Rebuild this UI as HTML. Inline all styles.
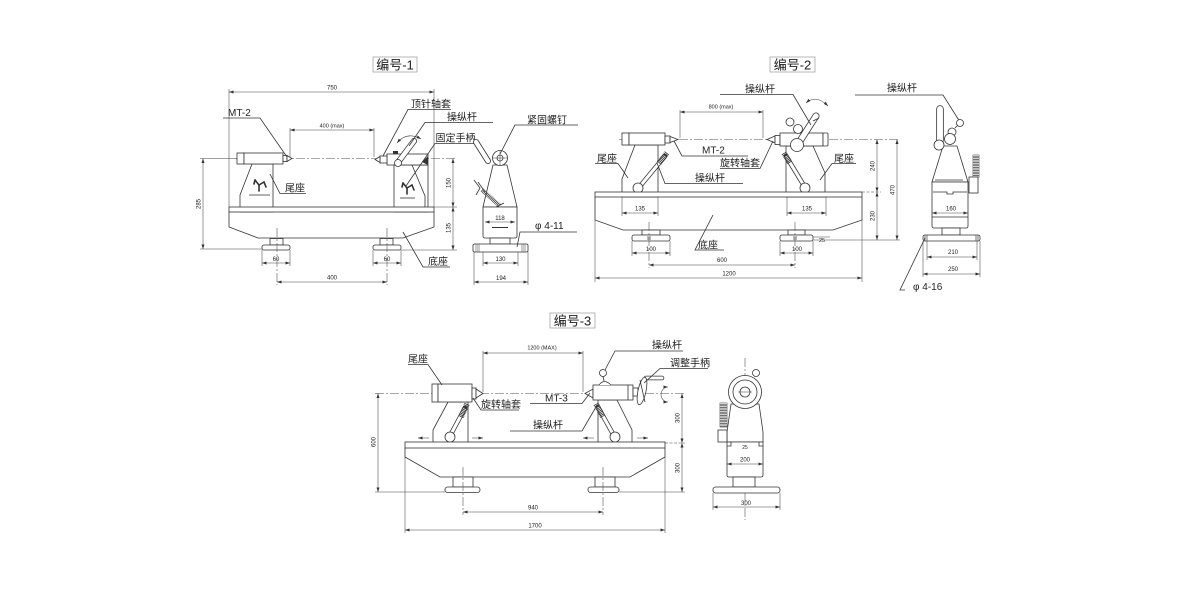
<!DOCTYPE html>
<html><head><meta charset="utf-8">
<style>
html,body{margin:0;padding:0;background:#fff;}
svg{display:block}
text{font-family:"Liberation Sans","Noto Sans CJK SC",sans-serif;fill:#222}
.l{stroke:#333;stroke-width:.8;fill:none}
.f{stroke:#333;stroke-width:.8;fill:#fff}
.d{stroke:#444;stroke-width:.55;fill:none}
.c{stroke:#555;stroke-width:.6;fill:none;stroke-dasharray:9 2 2 2}
.t{font-size:10px}
.n{font-size:6px}
.tt{font-size:13px}
</style></head><body>
<svg width="1181" height="591" viewBox="0 0 1181 591" xmlns="http://www.w3.org/2000/svg">
<defs>
<marker id="a" markerUnits="userSpaceOnUse" viewBox="0 0 6 4" refX="6" refY="2" markerWidth="5" markerHeight="3" orient="auto-start-reverse"><path d="M0,0L6,2L0,4z" fill="#333"/></marker>
</defs>
<rect width="1181" height="591" fill="#fff"/>

<!-- ================= DRAWING 1 ================= -->
<rect x="373" y="57" width="44" height="15" fill="none" stroke="#999" stroke-width=".7"/>
<text class="tt" x="395" y="69.5" text-anchor="middle">编号-1</text>

<!-- 750 -->
<line class="d" x1="229" y1="92" x2="434" y2="92" marker-start="url(#a)" marker-end="url(#a)"/>
<text class="n" x="332" y="89.5" text-anchor="middle">750</text>
<line class="d" x1="229" y1="89" x2="229" y2="207"/>
<line class="d" x1="434" y1="89" x2="434" y2="207"/>

<!-- 400 max -->
<line class="d" x1="290" y1="130" x2="374" y2="130" marker-start="url(#a)" marker-end="url(#a)"/>
<line class="d" x1="290" y1="128" x2="290" y2="157"/>
<line class="d" x1="374" y1="128" x2="374" y2="157"/>
<text font-size="5.5" x="332" y="127.5" text-anchor="middle">400 (max)</text>

<!-- center line -->
<line class="c" x1="236" y1="158.5" x2="457" y2="158.5"/>

<!-- left tailstock -->
<polygon class="f" points="252,164 240,195 240,212 273,212 273,164"/>
<rect class="f" x="237" y="153" width="7" height="11"/>
<rect class="f" x="244" y="153" width="39" height="11"/>
<rect class="f" x="283" y="155.5" width="4" height="6"/>
<polygon class="f" points="287,155.5 292,158.5 287,161.5"/>
<line x1="241" y1="207.5" x2="272" y2="207.5" stroke="#888" stroke-width=".8" stroke-dasharray="1 1"/>
<g stroke="#333" stroke-width="1.6" stroke-linecap="round">
<line x1="259" y1="185" x2="255" y2="180"/><line x1="259" y1="185" x2="264" y2="182"/><line x1="259" y1="185" x2="259" y2="191"/>
<line x1="255" y1="180" x2="254" y2="184"/><line x1="264" y1="182" x2="266" y2="187"/>
</g>
<line class="l" x1="249" y1="195" x2="270" y2="195"/>

<!-- right headstock -->
<rect class="f" x="394" y="165" width="34" height="47"/>
<polyline class="l" points="412,165 425,196 425,212"/>
<rect class="f" x="387" y="154" width="41" height="11"/>
<rect class="f" x="380" y="156" width="7" height="7"/>
<polygon class="f" points="380,156.5 375,159.5 380,162.5"/>
<polygon points="422,162 428,156 428,165" fill="#333"/>
<rect x="393" y="151" width="5" height="3" fill="#333"/>
<line x1="399" y1="161" x2="414" y2="141" stroke="#333" stroke-width="6" stroke-linecap="round"/>
<line x1="399" y1="161" x2="414" y2="141" stroke="#fff" stroke-width="4.4" stroke-linecap="round"/>
<circle class="f" cx="398" cy="163" r="3.5"/>
<path class="d" d="M397,143 Q407,131 421,139" marker-start="url(#a)" marker-end="url(#a)"/>
<line x1="395" y1="207.5" x2="427" y2="207.5" stroke="#888" stroke-width=".8" stroke-dasharray="1 1"/>
<g stroke="#333" stroke-width="1.6" stroke-linecap="round">
<line x1="407" y1="188" x2="403" y2="183"/><line x1="407" y1="188" x2="412" y2="185"/><line x1="407" y1="188" x2="407" y2="194"/>
<line x1="403" y1="183" x2="402" y2="187"/><line x1="412" y1="185" x2="414" y2="190"/>
</g>
<line class="l" x1="400" y1="198" x2="415" y2="198"/>

<!-- base 1 -->
<rect class="f" x="229" y="207" width="205" height="5"/>
<polyline class="l" points="229,212 229,227 258,238 403,238 434,227 434,212"/>
<rect class="f" x="270" y="238.5" width="13" height="6.5"/>
<rect class="f" x="262" y="245" width="28" height="5" rx="2"/>
<rect class="f" x="380" y="238.5" width="13" height="6.5"/>
<rect class="f" x="373" y="245" width="28" height="5" rx="2"/>
<line class="c" x1="277" y1="228" x2="277" y2="285"/>
<line class="c" x1="387" y1="228" x2="387" y2="285"/>

<!-- dims under 1 -->
<line class="d" x1="262" y1="250" x2="262" y2="266"/><line class="d" x1="290" y1="250" x2="290" y2="266"/>
<line class="d" x1="373" y1="250" x2="373" y2="266"/><line class="d" x1="401" y1="250" x2="401" y2="266"/>
<line class="d" x1="262" y1="263" x2="290" y2="263" marker-start="url(#a)" marker-end="url(#a)"/>
<line class="d" x1="373" y1="263" x2="401" y2="263" marker-start="url(#a)" marker-end="url(#a)"/>
<text class="n" x="276" y="261" text-anchor="middle">60</text>
<text class="n" x="387" y="261" text-anchor="middle">60</text>
<line class="d" x1="277" y1="282" x2="387" y2="282" marker-start="url(#a)" marker-end="url(#a)"/>
<text class="n" x="332" y="279.5" text-anchor="middle">400</text>

<!-- 285 -->
<line class="d" x1="200" y1="158.5" x2="237" y2="158.5"/>
<line class="d" x1="200" y1="249" x2="262" y2="249"/>
<line class="d" x1="203" y1="158.5" x2="203" y2="249" marker-start="url(#a)" marker-end="url(#a)"/>
<text class="n" text-anchor="middle" transform="translate(200.5,204) rotate(-90)">285</text>

<!-- right dims 1 -->
<line class="d" x1="434" y1="207" x2="457" y2="207"/>
<line class="d" x1="401" y1="250" x2="457" y2="250"/>
<line class="d" x1="453" y1="158.5" x2="453" y2="207" marker-start="url(#a)" marker-end="url(#a)"/>
<line class="d" x1="453" y1="207" x2="453" y2="250" marker-start="url(#a)" marker-end="url(#a)"/>
<text class="n" text-anchor="middle" transform="translate(450.5,183) rotate(-90)">150</text>
<text class="n" text-anchor="middle" transform="translate(450.5,228) rotate(-90)">135</text>

<!-- labels 1 -->
<text class="t" x="228" y="116">MT-2</text>
<polyline class="l" points="223,118 260,118 287,157"/>
<text class="t" x="411" y="107.5">顶针轴套</text>
<polyline class="l" points="451,109.5 408,109.5 383,156"/>
<text class="t" x="447" y="120.5">操纵杆</text>
<polyline class="l" points="493,122.5 425,122.5 409,146"/>
<text class="t" x="435.5" y="141.5">固定手柄</text>
<polyline class="l" points="474,143.5 435,143.5 406,186"/>
<text class="t" x="285" y="191.5">尾座</text>
<polyline class="l" points="306,193.5 280,193.5 270,174"/>
<text class="t" x="428" y="265">底座</text>
<polyline class="l" points="450,267 423,267 403,232"/>

<!-- side view 1 -->
<line x1="476" y1="142" x2="488" y2="161" stroke="#333" stroke-width="6" stroke-linecap="round"/>
<line x1="476" y1="142" x2="488" y2="161" stroke="#fff" stroke-width="4.4" stroke-linecap="round"/>
<polygon class="f" points="493,165 507,165 517,207 483,207"/>
<path class="f" d="M483,207 H517 V236 Q517,238 515,238 H485 Q483,238 483,236 Z"/>
<circle class="f" cx="500" cy="158" r="7.5"/>
<circle class="l" cx="500" cy="158" r="3"/>
<line class="d" x1="493" y1="158" x2="507" y2="158"/>
<line class="d" x1="500" y1="151" x2="500" y2="165"/>
<line x1="482" y1="190" x2="500" y2="206" stroke="#333" stroke-width="4" stroke-dasharray=".8 .7"/>
<polyline class="l" points="474,180 480,188 476,195"/>
<line class="l" x1="478" y1="182" x2="485" y2="192"/>
<line class="l" x1="496" y1="207" x2="504" y2="203"/>
<line x1="492" y1="227.5" x2="508" y2="227.5" stroke="#333" stroke-width="1"/>
<rect class="f" x="490" y="238" width="20" height="6"/>
<rect class="f" x="473" y="244" width="55" height="8" rx="1.5"/>
<rect x="475" y="244.5" width="5" height="7" fill="#ccc"/>
<rect x="521" y="244.5" width="5" height="7" fill="#ccc"/>
<line class="d" x1="485" y1="222" x2="515" y2="222" marker-start="url(#a)" marker-end="url(#a)"/>
<text class="n" x="500" y="220" text-anchor="middle">118</text>
<line class="d" x1="483" y1="252" x2="483" y2="266"/><line class="d" x1="518" y1="252" x2="518" y2="266"/>
<line class="d" x1="483" y1="263" x2="518" y2="263" marker-start="url(#a)" marker-end="url(#a)"/>
<text class="n" x="500.5" y="261" text-anchor="middle">130</text>
<line class="d" x1="474" y1="252" x2="474" y2="285"/><line class="d" x1="528" y1="252" x2="528" y2="285"/>
<line class="d" x1="474" y1="282" x2="528" y2="282" marker-start="url(#a)" marker-end="url(#a)"/>
<text class="n" x="501" y="280" text-anchor="middle">194</text>
<text class="t" x="527" y="123.5">紧固螺钉</text>
<polyline class="l" points="578,125 515,125 500,154"/>
<text class="t" x="535" y="229">φ 4-11</text>
<polyline class="l" points="577,232 520,232 517,247"/>

<!-- ================= DRAWING 2 ================= -->
<rect x="770" y="57" width="45" height="15" fill="none" stroke="#999" stroke-width=".7"/>
<text class="tt" x="792.5" y="69.5" text-anchor="middle">编号-2</text>

<!-- 800 max -->
<line class="d" x1="680" y1="112" x2="763" y2="112" marker-start="url(#a)" marker-end="url(#a)"/>
<line class="d" x1="680" y1="110" x2="680" y2="138"/>
<line class="d" x1="763" y1="110" x2="763" y2="138"/>
<text font-size="5.5" x="721" y="108.5" text-anchor="middle">800 (max)</text>

<line class="c" x1="619" y1="139.5" x2="900" y2="139.5"/>

<!-- left tailstock 2 -->
<polygon class="f" points="635,145 622,179 622,197 658,197 658,145"/>
<line x1="623" y1="196" x2="657" y2="196" stroke="#333" stroke-width="1.4"/>
<rect class="f" x="622" y="133" width="7" height="12"/>
<rect class="f" x="629" y="133" width="36" height="12"/>
<rect class="f" x="665" y="136" width="5" height="7"/>
<polygon class="f" points="670,136.5 678,139.5 670,142.5"/>
<line x1="665" y1="156" x2="641" y2="185" stroke="#333" stroke-width="4.6" stroke-linecap="round"/>
<line x1="665" y1="156" x2="641" y2="185" stroke="#fff" stroke-width="3.1"/>
<line x1="667" y1="153" x2="659" y2="163" stroke="#333" stroke-width="5.5" stroke-dasharray=".8 .7"/>
<circle class="f" cx="638" cy="188" r="5"/>

<!-- right headstock 2 -->
<polygon class="f" points="786,146 786,197 825,197 825,173 813,146"/>
<line x1="787" y1="196" x2="824" y2="196" stroke="#333" stroke-width="1.4"/>
<polygon class="f" points="767,139.5 775,136 775,143"/>
<rect class="f" x="775" y="135.5" width="5" height="9"/>
<rect class="f" x="780" y="133" width="43" height="13"/>
<rect class="f" x="823" y="133" width="5" height="13" rx="1"/>
<line x1="786" y1="156" x2="803" y2="184" stroke="#333" stroke-width="4.6" stroke-linecap="round"/>
<line x1="786" y1="156" x2="803" y2="184" stroke="#fff" stroke-width="3.1"/>
<line x1="784" y1="153" x2="790" y2="163" stroke="#333" stroke-width="5.5" stroke-dasharray=".8 .7"/>
<circle class="f" cx="805" cy="188" r="5"/>
<circle class="f" cx="790" cy="122" r="4"/>
<circle class="f" cx="798" cy="129" r="4.5"/>
<line x1="800" y1="141" x2="816" y2="116" stroke="#333" stroke-width="7" stroke-linecap="round"/>
<line x1="800" y1="141" x2="816" y2="116" stroke="#fff" stroke-width="5.4" stroke-linecap="round"/>
<line class="l" x1="813" y1="121" x2="819" y2="118"/>
<circle class="f" cx="797" cy="145" r="6.5"/>
<path class="d" d="M806,103 Q816,94 828,106" marker-start="url(#a)" marker-end="url(#a)"/>

<!-- base 2 -->
<rect class="f" x="595" y="192" width="267" height="5"/>
<polyline class="l" points="595,197 595,220 623,230 833,230 862,220 862,197"/>
<line class="d" x1="595" y1="220" x2="595" y2="282"/>
<line class="d" x1="862" y1="220" x2="862" y2="282"/>
<rect class="f" x="642" y="230" width="18" height="5"/>
<rect class="f" x="632" y="235" width="38" height="6" rx="2"/>
<rect class="f" x="788" y="230" width="17" height="5"/>
<rect class="f" x="780" y="235" width="33" height="6" rx="2"/>
<rect x="647" y="236" width="4" height="4" fill="#bbb"/>
<rect x="793" y="236" width="4" height="4" fill="#bbb"/>
<line class="c" x1="649" y1="222" x2="649" y2="268"/>
<line class="c" x1="795" y1="222" x2="795" y2="268"/>

<!-- dims 2 -->
<line class="d" x1="622" y1="197" x2="622" y2="216"/><line class="d" x1="658" y1="197" x2="658" y2="216"/>
<line class="d" x1="622" y1="213" x2="658" y2="213" marker-start="url(#a)" marker-end="url(#a)"/>
<text class="n" x="640" y="210.5" text-anchor="middle">135</text>
<line class="d" x1="787" y1="197" x2="787" y2="216"/><line class="d" x1="826" y1="197" x2="826" y2="216"/>
<line class="d" x1="787" y1="213" x2="826" y2="213" marker-start="url(#a)" marker-end="url(#a)"/>
<text class="n" x="807" y="210.5" text-anchor="middle">135</text>
<line class="d" x1="632" y1="241" x2="632" y2="256"/><line class="d" x1="670" y1="241" x2="670" y2="256"/>
<line class="d" x1="632" y1="253" x2="670" y2="253" marker-start="url(#a)" marker-end="url(#a)"/>
<text class="n" x="651" y="251" text-anchor="middle">100</text>
<line class="d" x1="780" y1="241" x2="780" y2="256"/><line class="d" x1="813" y1="241" x2="813" y2="256"/>
<line class="d" x1="780" y1="253" x2="813" y2="253" marker-start="url(#a)" marker-end="url(#a)"/>
<text class="n" x="797" y="251" text-anchor="middle">100</text>
<line class="d" x1="649" y1="265" x2="795" y2="265" marker-start="url(#a)" marker-end="url(#a)"/>
<text class="n" x="722" y="262" text-anchor="middle">600</text>
<line class="d" x1="595" y1="278" x2="862" y2="278" marker-start="url(#a)" marker-end="url(#a)"/>
<text class="n" x="729" y="275.5" text-anchor="middle">1200</text>
<line class="d" x1="813" y1="237" x2="830" y2="237"/>
<text font-size="5.5" x="819" y="242">25</text>

<line class="d" x1="862" y1="192" x2="881" y2="192" stroke-dasharray="3 1.5"/>
<line class="d" x1="813" y1="240" x2="900" y2="240"/>
<line class="d" x1="877" y1="139.5" x2="877" y2="192" marker-start="url(#a)" marker-end="url(#a)"/>
<line class="d" x1="877" y1="192" x2="877" y2="240" marker-start="url(#a)" marker-end="url(#a)"/>
<line class="d" x1="897" y1="139.5" x2="897" y2="240" marker-start="url(#a)" marker-end="url(#a)"/>
<text class="n" text-anchor="middle" transform="translate(874.5,166) rotate(-90)">240</text>
<text class="n" text-anchor="middle" transform="translate(874.5,216) rotate(-90)">230</text>
<text class="n" text-anchor="middle" transform="translate(894.5,190) rotate(-90)">470</text>

<!-- labels 2 -->
<text class="t" x="745" y="92.5">操纵杆</text>
<polyline class="l" points="720,94.5 793,94.5 811,125"/>
<text class="t" x="702" y="153.5">MT-2</text>
<polyline class="l" points="748,156 682,156 674,141"/>
<text class="t" x="720" y="166.5">旋转轴套</text>
<polyline class="l" points="720,168.5 760,168.5 773,141"/>
<text class="t" x="695" y="181.5">操纵杆</text>
<polyline class="l" points="743,183.5 665,183.5 657,163"/>
<text class="t" x="597" y="162">尾座</text>
<polyline class="l" points="595,163.5 618,163.5 628,178"/>
<text class="t" x="834" y="162">尾座</text>
<polyline class="l" points="856,163.5 832,163.5 820,180"/>
<text class="t" x="698" y="248.5">底座</text>
<polyline class="l" points="724,250 695,250 713,215"/>

<!-- side view 2 -->
<text class="t" x="887" y="91.5">操纵杆</text>
<polyline class="l" points="855,95 943,95 960,122"/>
<line x1="940" y1="109" x2="940" y2="140" stroke="#333" stroke-width="7.5" stroke-linecap="round"/>
<line x1="940" y1="109" x2="940" y2="140" stroke="#fff" stroke-width="5.9" stroke-linecap="round"/>
<line class="l" x1="955" y1="128" x2="958" y2="125"/>
<circle class="f" cx="960" cy="123" r="3.5"/>
<circle class="f" cx="952" cy="132" r="4"/>
<polygon class="f" points="943,146 957,146 968,182 932,182"/>
<circle class="f" cx="950" cy="139" r="5.5"/>
<circle class="f" cx="939" cy="145" r="5"/>
<path class="f" d="M932,182 H968 V226 Q968,228 966,228 H934 Q932,228 932,226 Z"/>
<line class="l" x1="935" y1="180" x2="963" y2="180"/>
<polyline class="l" points="933,192 947,192 947,194 953,194 953,192 967,192"/>
<line class="l" x1="932" y1="217" x2="968" y2="217"/>
<rect x="973" y="155" width="6" height="22" fill="#444" stroke="#333" stroke-width=".6"/>
<line x1="976" y1="155" x2="976" y2="177" stroke="#fff" stroke-width="6" stroke-dasharray=".8 .8"/>
<rect class="f" x="969" y="177" width="9" height="16"/>
<rect class="f" x="942" y="228" width="18" height="7"/>
<rect class="f" x="923" y="235" width="57" height="6" rx="2"/>
<rect x="924" y="235.5" width="4" height="5" fill="#bbb"/>
<rect x="975" y="235.5" width="4" height="5" fill="#bbb"/>
<line class="d" x1="932" y1="213" x2="968" y2="213" marker-start="url(#a)" marker-end="url(#a)"/>
<text class="n" x="951" y="210.5" text-anchor="middle">160</text>
<line class="d" x1="927" y1="241" x2="927" y2="260"/><line class="d" x1="977" y1="241" x2="977" y2="260"/>
<line class="d" x1="927" y1="257" x2="977" y2="257" marker-start="url(#a)" marker-end="url(#a)"/>
<text class="n" x="953" y="254" text-anchor="middle">210</text>
<line class="d" x1="923" y1="241" x2="923" y2="277"/><line class="d" x1="980" y1="241" x2="980" y2="277"/>
<line class="d" x1="923" y1="274" x2="980" y2="274" marker-start="url(#a)" marker-end="url(#a)"/>
<text class="n" x="953" y="271" text-anchor="middle">250</text>
<polyline class="l" points="925,238 900,290 905,290"/>
<text class="t" x="913" y="290">φ 4-16</text>

<!-- ================= DRAWING 3 ================= -->
<rect x="550" y="313" width="45" height="15" fill="none" stroke="#999" stroke-width=".7"/>
<text class="tt" x="572.5" y="325.5" text-anchor="middle">编号-3</text>

<line class="d" x1="483" y1="353" x2="583" y2="353" marker-start="url(#a)" marker-end="url(#a)"/>
<line class="d" x1="483" y1="351" x2="483" y2="392"/>
<line class="d" x1="583" y1="351" x2="583" y2="392"/>
<text font-size="5.5" x="542" y="349.5" text-anchor="middle">1200 (MAX)</text>

<line class="c" x1="375" y1="393.5" x2="686" y2="393.5"/>

<!-- left tailstock 3 -->
<polygon class="f" points="448,402 433,430 433,447 468,447 468,402"/>
<rect class="f" x="432" y="384" width="6" height="18"/>
<rect class="f" x="438" y="384" width="34" height="18"/>
<rect class="f" x="472" y="388" width="4" height="11"/>
<polygon class="f" points="476,389 483,393.5 476,398"/>
<line x1="465" y1="408" x2="451" y2="434" stroke="#333" stroke-width="4.6" stroke-linecap="round"/>
<line x1="465" y1="408" x2="451" y2="434" stroke="#fff" stroke-width="3.1"/>
<line x1="467" y1="404" x2="461" y2="417" stroke="#333" stroke-width="5.5" stroke-dasharray=".8 .7"/>
<circle class="f" cx="450" cy="437" r="5"/>
<line class="d" x1="429" y1="438" x2="418" y2="438" marker-end="url(#a)"/>
<line class="d" x1="472" y1="438" x2="483" y2="438" marker-end="url(#a)"/>

<!-- right headstock 3 -->
<polygon class="f" points="598,400 598,447 632,447 632,430 617,400"/>
<polygon class="f" points="585,393.5 593,389 593,398"/>
<rect class="f" x="593" y="385" width="40" height="15"/>
<path class="f" d="M599,385 Q604,378 611,385"/>
<line class="l" x1="603" y1="376.5" x2="604" y2="381"/>
<circle class="f" cx="603" cy="373" r="3.5"/>
<line class="l" x1="628" y1="385" x2="628" y2="400"/>
<rect class="f" x="633" y="388" width="5" height="8"/>
<line x1="646" y1="378" x2="662" y2="378" stroke="#333" stroke-width="4.5" stroke-linecap="round"/>
<line x1="646" y1="378" x2="662" y2="378" stroke="#fff" stroke-width="3" stroke-linecap="round"/>
<ellipse class="f" cx="642" cy="391" rx="4" ry="14" transform="rotate(12 642 391)"/>
<line class="l" x1="640" y1="380" x2="645" y2="402"/>
<path class="d" d="M668,387 A6.5,7 0 0 0 668,402" marker-start="url(#a)" marker-end="url(#a)"/>
<line x1="598" y1="407" x2="613" y2="434" stroke="#333" stroke-width="4.6" stroke-linecap="round"/>
<line x1="598" y1="407" x2="613" y2="434" stroke="#fff" stroke-width="3.1"/>
<line x1="596" y1="404" x2="603" y2="417" stroke="#333" stroke-width="5.5" stroke-dasharray=".8 .7"/>
<circle class="f" cx="615" cy="437" r="5"/>
<line class="d" x1="594" y1="438" x2="583" y2="438" marker-end="url(#a)"/>
<line class="d" x1="637" y1="438" x2="648" y2="438" marker-end="url(#a)"/>

<!-- base 3 -->
<rect class="f" x="405" y="442" width="260" height="6"/>
<polyline class="l" points="405,448 405,457 440,477 630,477 665,457 665,448"/>
<line class="d" x1="405" y1="457" x2="405" y2="533"/>
<line class="d" x1="665" y1="457" x2="665" y2="533"/>
<rect class="f" x="453" y="477" width="20" height="10"/>
<rect class="f" x="445" y="487" width="35" height="5.5" rx="2.5"/>
<rect class="f" x="595" y="477" width="20" height="10"/>
<rect class="f" x="588" y="487" width="31" height="5.5" rx="2.5"/>
<line class="c" x1="463" y1="467" x2="463" y2="515"/>
<line class="c" x1="603" y1="467" x2="603" y2="515"/>

<line class="d" x1="463" y1="512" x2="603" y2="512" marker-start="url(#a)" marker-end="url(#a)"/>
<text class="n" x="533" y="509.5" text-anchor="middle">940</text>
<line class="d" x1="405" y1="530" x2="665" y2="530" marker-start="url(#a)" marker-end="url(#a)"/>
<text class="n" x="535" y="527.5" text-anchor="middle">1700</text>

<line class="d" x1="375" y1="492" x2="445" y2="492"/>
<line class="d" x1="378" y1="393.5" x2="378" y2="492" marker-start="url(#a)" marker-end="url(#a)"/>
<text class="n" text-anchor="middle" transform="translate(375.5,442) rotate(-90)">600</text>

<line class="d" x1="665" y1="443" x2="685" y2="443" stroke-dasharray="3 1.5"/>
<line class="d" x1="619" y1="492" x2="685" y2="492"/>
<line class="d" x1="682" y1="393.5" x2="682" y2="443" marker-start="url(#a)" marker-end="url(#a)"/>
<line class="d" x1="682" y1="443" x2="682" y2="492" marker-start="url(#a)" marker-end="url(#a)"/>
<text class="n" text-anchor="middle" transform="translate(679.5,418) rotate(-90)">300</text>
<text class="n" text-anchor="middle" transform="translate(679.5,468) rotate(-90)">300</text>

<!-- labels 3 -->
<text class="t" x="408" y="362.5">尾座</text>
<polyline class="l" points="408,364.5 428,364.5 442,385"/>
<text class="t" x="481" y="408">旋转轴套</text>
<polyline class="l" points="519,410 481,410 473,398"/>
<text class="t" x="545" y="401.5">MT-3</text>
<polyline class="l" points="530,403.5 582,403.5 590,393"/>
<text class="t" x="533" y="428.5">操纵杆</text>
<polyline class="l" points="510,431 582,431 596,407"/>
<text class="t" x="652" y="348.5">操纵杆</text>
<polyline class="l" points="683,351 615,351 605,370"/>
<text class="t" x="670" y="366.5">调整手柄</text>
<polyline class="l" points="708,368.5 660,368.5 644,383"/>

<!-- side view 3 -->
<line class="c" x1="745" y1="358" x2="745" y2="520"/>
<polygon class="f" points="731,404 759,404 763,432 763,442 727,442 727,432"/>
<circle class="f" cx="745" cy="392" r="16.5"/>
<circle class="l" cx="745" cy="392" r="12"/>
<circle class="l" cx="745" cy="392" r="5"/>
<line class="d" x1="738" y1="392" x2="752" y2="392"/>
<circle class="f" cx="756" cy="373" r="3.5"/>
<path class="f" d="M727,442 H763 V475 Q763,477 761,477 H729 Q727,477 727,475 Z"/>
<polyline class="l" points="727,446 731,446 731,442"/>
<polyline class="l" points="763,446 759,446 759,442"/>
<text font-size="5" x="745" y="449" text-anchor="middle">25</text>
<line class="d" x1="727" y1="464" x2="763" y2="464" marker-start="url(#a)" marker-end="url(#a)"/>
<text class="n" x="745" y="461.5" text-anchor="middle">200</text>
<rect x="720" y="403" width="7" height="24" fill="#444" stroke="#333" stroke-width=".6"/>
<line x1="723.5" y1="403" x2="723.5" y2="427" stroke="#fff" stroke-width="7" stroke-dasharray=".8 .8"/>
<rect class="f" x="718" y="430" width="9" height="12"/>
<rect class="f" x="733" y="477" width="22" height="10"/>
<rect class="f" x="713" y="487" width="67" height="6" rx="2.5"/>
<line class="d" x1="713" y1="493" x2="713" y2="510"/><line class="d" x1="780" y1="493" x2="780" y2="510"/>
<line class="d" x1="713" y1="507" x2="780" y2="507" marker-start="url(#a)" marker-end="url(#a)"/>
<text class="n" x="746" y="505" text-anchor="middle">300</text>

</svg>
</body></html>
